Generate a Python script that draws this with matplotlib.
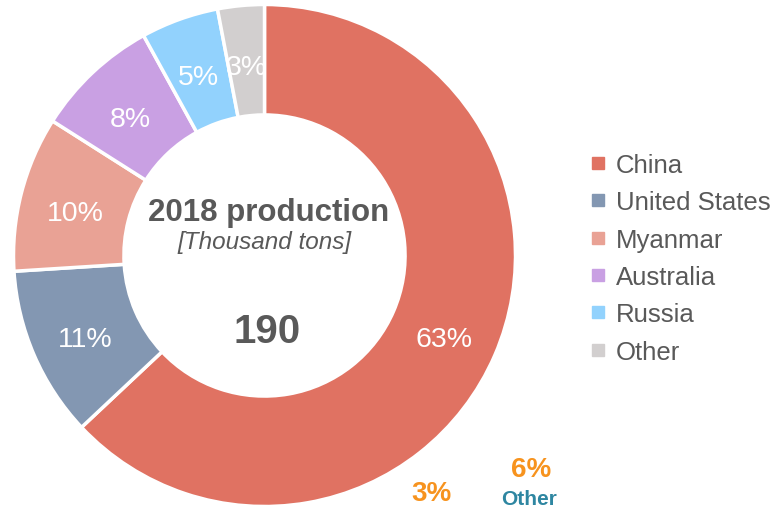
import matplotlib.pyplot as plt
from matplotlib.lines import Line2D

plt.rcParams['font.family'] = ['Liberation Sans', 'DejaVu Sans']

countries = ['China', 'United States', 'Myanmar', 'Australia', 'Russia', 'Other']
shares = [63, 11, 10, 8, 5, 3]
colors = ['#E07262', '#8397B2', '#E9A295', '#C9A0E3', '#92D2FD', '#D2CFCF']
total_production = 190
grey = '#595959'

W, H = 773, 510
fig = plt.figure(figsize=(W / 100, H / 100), dpi=100)

# donut sits on the left, 502 px across
ax = fig.add_axes([13.5 / W, 2.5 / H, 502 / W, 502 / H])
wedges, _, pcts = ax.pie(
    shares, colors=colors, startangle=90, counterclock=False,
    autopct='%d%%', pctdistance=0.78, radius=1,
    wedgeprops=dict(width=0.44, edgecolor='white', linewidth=2.5),
    textprops=dict(color='white', fontsize=20.5))
# nudge the percentages down a touch
for t in pcts:
    x, y = t.get_position()
    t.set_position((x, y - 0.024))
ax.set_xlim(-1, 1)
ax.set_ylim(-1, 1)
ax.set_aspect('equal')
ax.axis('off')

ax.text(0.015, 0.175, '2018 production', ha='center', va='center',
        fontsize=22.5, fontweight='bold', color=grey)
ax.text(0.0, 0.055, '[Thousand tons]', ha='center', va='center',
        fontsize=17.5, style='italic', color=grey)
ax.text(0.01, -0.30, str(total_production), ha='center', va='center',
        fontsize=29, fontweight='bold', color=grey)

handles = [Line2D([], [], marker='s', linestyle='', markersize=8, color=c)
           for c in colors]
fig.legend(handles, countries, loc='upper left',
           bbox_to_anchor=(572 / W, 1 - 141 / H), frameon=False,
           fontsize=18.5, labelcolor=grey, handletextpad=0.2,
           handlelength=1.0, labelspacing=0.52, borderpad=0)

fig.text(431 / W, 1 - 494 / H, '3%', ha='center', va='center',
         fontsize=20, fontweight='bold', color='#F7931E')
fig.text(531 / W, 1 - 470 / H, '6%', ha='center', va='center',
         fontsize=20, fontweight='bold', color='#F7931E')
fig.text(529 / W, 1 - 500 / H, 'Other', ha='center', va='center',
         fontsize=15, fontweight='bold', color='#2E86A1')

fig.savefig('out.png', dpi=100)
